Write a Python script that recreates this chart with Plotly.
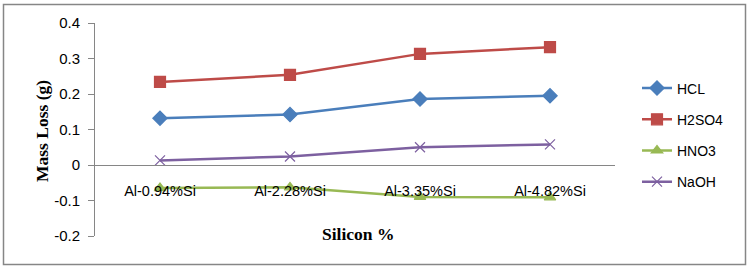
import plotly.graph_objects as go

categories = ["Al-0.94%Si", "Al-2.28%Si", "Al-3.35%Si", "Al-4.82%Si"]
hcl = [0.132, 0.142, 0.186, 0.195]
h2so4 = [0.234, 0.254, 0.313, 0.332]
hno3 = [-0.065, -0.063, -0.090, -0.091]
naoh = [0.013, 0.024, 0.050, 0.058]
y_ticks = [-0.2, -0.1, 0, 0.1, 0.2, 0.3, 0.4]
y_ticktext = ["-0.2", "-0.1", "0", "0.1", "0.2", "0.3", "0.4"]

series = [
    ("HCL", hcl, "#4A7EBB", "diamond", 11),
    ("H2SO4", h2so4, "#BE4B48", "square", 11),
    ("HNO3", hno3, "#98B954", "triangle-up", 10),
    ("NaOH", naoh, "#7D60A0", "x-thin", 10),
]

fig = go.Figure()
for i, (name, vals, col, sym, sz) in enumerate(series):
    fig.add_trace(go.Scatter(
        x=categories, y=vals, name=name, mode="lines+markers",
        line=dict(color=col, width=2.5),
        marker=dict(symbol=sym, size=sz, color=col,
                    line=dict(color=col, width=1.2)),
        legendgroup=name,
    ))

W, H = 749, 270
L, R, T, B = 95, 134, 23, 34
pw = W - L - R
ph = H - T - B

fig.update_layout(
    width=W, height=H,
    margin=dict(l=L, r=R, t=T, b=B),
    paper_bgcolor="white", plot_bgcolor="white",
    font=dict(family="Liberation Sans, Arial, sans-serif", size=14, color="black"),
    showlegend=True,
    legend=dict(x=(637 - L) / pw, xanchor="left", y=(H - B - 135) / ph, yanchor="middle",
                tracegroupgap=10, font=dict(size=14, family="Liberation Sans, Arial, sans-serif"),
                bgcolor="rgba(0,0,0,0)", itemwidth=30),
    xaxis=dict(
        type="category", range=[-0.5, 3.5], anchor="free", position=1/3,
        showline=True, linecolor="#868686", linewidth=1,
        ticks="", showgrid=False, zeroline=False, ticklabelstandoff=13,
        tickfont=dict(size=14.5),
        title=None,
    ),
    yaxis=dict(
        range=[-0.2, 0.4], tickvals=y_ticks, ticktext=y_ticktext,
        showline=True, linecolor="#868686", linewidth=1,
        ticks="outside", ticklen=6, tickcolor="#868686", ticklabelstandoff=5,
        showgrid=False, zeroline=False, tickfont=dict(size=15),
        title=None,
    ),
    annotations=[
        dict(text="<b>Mass Loss (g)</b>", xref="paper", yref="paper",
             x=(30 - L) / pw, y=(H - B - 131) / ph, showarrow=False, textangle=-90,
             font=dict(family="Liberation Serif, Times New Roman, serif", size=17.5, color="black")),
        dict(text="<b>Silicon %</b>", xref="paper", yref="paper",
             x=(358 - L) / pw, y=(H - B - 246) / ph, showarrow=False,
             font=dict(family="Liberation Serif, Times New Roman, serif", size=17.5, color="black")),
    ],
    shapes=[
        dict(type="rect", xref="paper", yref="paper",
             x0=(3.5 - L) / pw, x1=(745.5 - L) / pw,
             y0=(H - B - 264.5) / ph, y1=(H - B - 4.5) / ph,
             line=dict(color="#868686", width=1.5), fillcolor="rgba(0,0,0,0)", layer="below"),
    ],
)

fig.write_html("out.html", config={"displayModeBar": False},
               post_script="document.body.style.margin='0';")
